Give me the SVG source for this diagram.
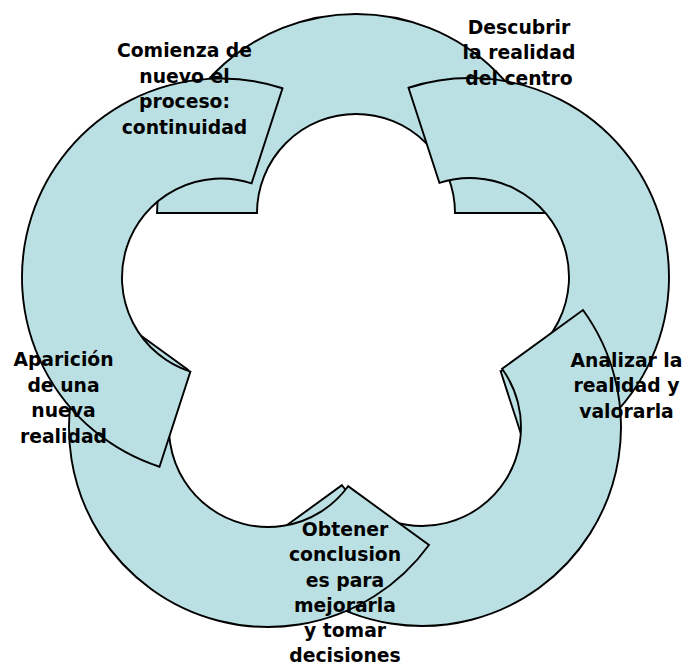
<svg xmlns="http://www.w3.org/2000/svg" width="686" height="666" viewBox="0 0 686 666">
<style>
.seg{fill:#BBE0E3;stroke:#000;stroke-width:1.9;stroke-linejoin:miter}
.lbl{font-family:"DejaVu Sans","Liberation Sans",sans-serif;font-weight:bold;font-size:18.8px;fill:#000;text-anchor:middle}
</style>
<rect width="686" height="666" fill="#fff"/>
<g id="connectors"/>
<g id="seg1">
<path class="seg" d="M157,213 A199,199 0 0 1 356,14 A199,199 0 0 1 555,213 L455,213 A99,99 0 0 0 356,114 A99,99 0 0 0 257,213 Z"/>
</g>
<g id="seg2">
<path class="seg" d="M408.51,87.74 A199,199 0 0 1 659.26,215.51 A199,199 0 0 1 531.50,466.26 L500.59,371.15 A99,99 0 0 0 564.16,246.41 A99,99 0 0 0 439.41,182.85 Z"/>
</g>
<g id="seg3">
<path class="seg" d="M582.99,310.03 A199,199 0 0 1 538.97,587.99 A199,199 0 0 1 261.01,543.97 L341.91,485.19 A99,99 0 0 0 480.19,507.09 A99,99 0 0 0 502.09,368.81 Z"/>
</g>
<g id="seg4">
<path class="seg" d="M428.99,544.97 A199,199 0 0 1 151.03,588.99 A199,199 0 0 1 107.01,311.03 L187.91,369.81 A99,99 0 0 0 209.81,508.09 A99,99 0 0 0 348.09,486.19 Z"/>
</g>
<g id="seg5">
<path class="seg" d="M159.51,466.76 A199,199 0 0 1 31.74,216.01 A199,199 0 0 1 282.50,88.24 L251.59,183.35 A99,99 0 0 0 126.85,246.91 A99,99 0 0 0 190.41,371.66 Z"/>
</g>
<g id="labels">
<text class="lbl" x="519" y="33.5">Descubrir<tspan x="519" y="59">la realidad</tspan><tspan x="519" y="84.5">del centro</tspan></text>
<text class="lbl" x="626.5" y="366.5">Analizar la<tspan x="626.5" y="392">realidad y</tspan><tspan x="626.5" y="417.5">valorarla</tspan></text>
<text class="lbl" x="345" y="536">Obtener<tspan x="345" y="561.3">conclusion</tspan><tspan x="345" y="586.6">es para</tspan><tspan x="345" y="611.9">mejorarla</tspan><tspan x="345" y="637.2">y tomar</tspan><tspan x="345" y="661.5">decisiones</tspan></text>
<text class="lbl" x="63.5" y="366">Aparición<tspan x="63.5" y="391.5">de una</tspan><tspan x="63.5" y="417">nueva</tspan><tspan x="63.5" y="442.5">realidad</tspan></text>
<text class="lbl" x="184.5" y="57.3">Comienza de<tspan x="184.5" y="82.8">nuevo el</tspan><tspan x="184.5" y="108.3">proceso:</tspan><tspan x="184.5" y="133.8">continuidad</tspan></text>
</g>
</svg>
